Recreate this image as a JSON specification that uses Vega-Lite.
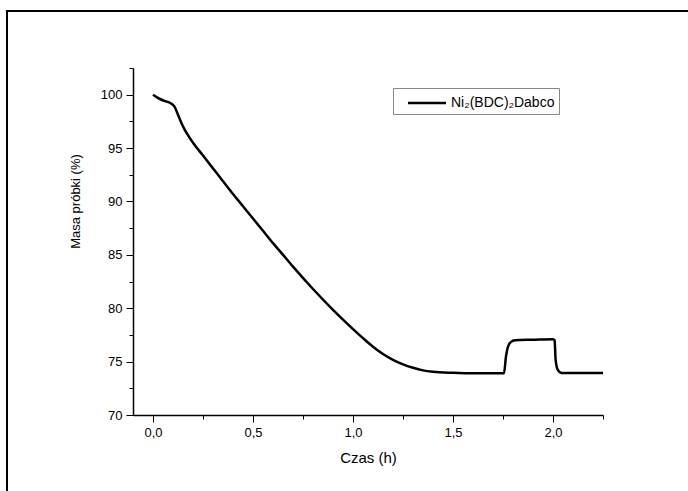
{
  "$schema": "https://vega.github.io/schema/vega-lite/v6.json",
  "width": 685,
  "height": 484,
  "autosize": {"type": "none"},
  "padding": {"left": 7, "top": 11, "right": -4, "bottom": -4},
  "background": "white",
  "config": {
    "view": {"stroke": "black", "strokeWidth": 2},
    "font": "Liberation Sans",
    "axis": {
      "grid": false,
      "domainColor": "black",
      "domainWidth": 1.5,
      "tickColor": "black",
      "tickWidth": 1,
      "labelColor": "black",
      "labelFontSize": 13,
      "labelFlush": false,
      "titleColor": "black",
      "titleFontSize": 15,
      "titleFontWeight": "normal"
    }
  },
  "data": {
    "values": [
      {"czas": 0.0, "masa": 100.0},
      {"czas": 0.02, "masa": 99.75},
      {"czas": 0.04, "masa": 99.55},
      {"czas": 0.06, "masa": 99.4},
      {"czas": 0.083, "masa": 99.25},
      {"czas": 0.1, "masa": 99.05},
      {"czas": 0.11, "masa": 98.8},
      {"czas": 0.12, "masa": 98.35},
      {"czas": 0.13, "masa": 97.9},
      {"czas": 0.142, "masa": 97.35},
      {"czas": 0.155, "masa": 96.85},
      {"czas": 0.17, "masa": 96.35},
      {"czas": 0.2, "masa": 95.5},
      {"czas": 0.25, "masa": 94.3},
      {"czas": 0.3, "masa": 93.1},
      {"czas": 0.35, "masa": 91.9},
      {"czas": 0.4, "masa": 90.7},
      {"czas": 0.45, "masa": 89.55},
      {"czas": 0.5, "masa": 88.4},
      {"czas": 0.55, "masa": 87.25},
      {"czas": 0.6, "masa": 86.1},
      {"czas": 0.65, "masa": 85.0},
      {"czas": 0.7, "masa": 83.9},
      {"czas": 0.8, "masa": 81.8},
      {"czas": 0.9, "masa": 79.85},
      {"czas": 1.0, "masa": 78.05},
      {"czas": 1.05, "masa": 77.2},
      {"czas": 1.1, "masa": 76.4},
      {"czas": 1.15, "masa": 75.72},
      {"czas": 1.2, "masa": 75.17},
      {"czas": 1.25, "masa": 74.74},
      {"czas": 1.3, "masa": 74.42},
      {"czas": 1.35, "masa": 74.18},
      {"czas": 1.4, "masa": 74.05},
      {"czas": 1.5, "masa": 73.95},
      {"czas": 1.6, "masa": 73.9},
      {"czas": 1.7, "masa": 73.9},
      {"czas": 1.755, "masa": 73.92},
      {"czas": 1.765, "masa": 75.5},
      {"czas": 1.775, "masa": 76.4},
      {"czas": 1.79, "masa": 76.85},
      {"czas": 1.81, "masa": 77.0},
      {"czas": 1.9, "masa": 77.05},
      {"czas": 2.0, "masa": 77.1},
      {"czas": 2.008, "masa": 77.0},
      {"czas": 2.013, "masa": 75.2},
      {"czas": 2.022, "masa": 74.3},
      {"czas": 2.035, "masa": 74.0},
      {"czas": 2.05, "masa": 73.93},
      {"czas": 2.25, "masa": 73.93}
    ]
  },
  "layer": [
    {
      "mark": {"type": "line", "strokeWidth": 2.5, "interpolate": "monotone"},
      "encoding": {
        "x": {
          "field": "czas",
          "type": "quantitative",
          "scale": {"domain": [-0.1, 2.25], "range": [126, 596], "nice": false, "zero": false},
          "axis": {
            "orient": "bottom",
            "offset": -80,
            "values": [0, 0.5, 1, 1.5, 2],
            "tickSize": 7,
            "labelPadding": 4,
            "labelExpr": "replace(format(datum.value, '.1f'), '.', ',')",
            "title": "Czas (h)",
            "titlePadding": 11
          }
        },
        "y": {
          "field": "masa",
          "type": "quantitative",
          "scale": {"domain": [70, 102.5], "range": [404, 57], "nice": false, "zero": false},
          "axis": {
            "orient": "left",
            "offset": -126,
            "values": [70, 75, 80, 85, 90, 95, 100],
            "tickSize": 7,
            "labelPadding": 4,
            "title": "Masa próbki (%)",
            "titleFontSize": 13,
            "titleX": -51,
            "titleY": 190
          }
        },
        "color": {
          "datum": "Ni₂(BDC)₂Dabco",
          "type": "nominal",
          "scale": {"range": ["black"]},
          "legend": {
            "orient": "none",
            "legendX": 386,
            "legendY": 77,
            "title": null,
            "strokeColor": "#888",
            "fillColor": "white",
            "padding": 4,
            "symbolType": "M0,0H4",
            "symbolSize": 361,
            "symbolStrokeWidth": 2.5,
            "labelFontSize": 14,
            "labelColor": "black",
            "labelOffset": 32
          }
        }
      }
    },
    {
      "mark": {"type": "line", "opacity": 0},
      "encoding": {
        "x": {
          "field": "czas",
          "type": "quantitative",
          "axis": {
            "orient": "bottom",
            "offset": -80,
            "values": [0.25, 0.75, 1.25, 1.75, 2.25],
            "tickSize": 4,
            "labels": false,
            "domain": false,
            "title": null
          }
        },
        "y": {
          "field": "masa",
          "type": "quantitative",
          "axis": {
            "orient": "left",
            "offset": -126,
            "values": [72.5, 77.5, 82.5, 87.5, 92.5, 97.5, 102.5],
            "tickSize": 4,
            "labels": false,
            "domain": false,
            "title": null
          }
        }
      }
    }
  ],
  "resolve": {"axis": {"x": "independent", "y": "independent"}}
}
